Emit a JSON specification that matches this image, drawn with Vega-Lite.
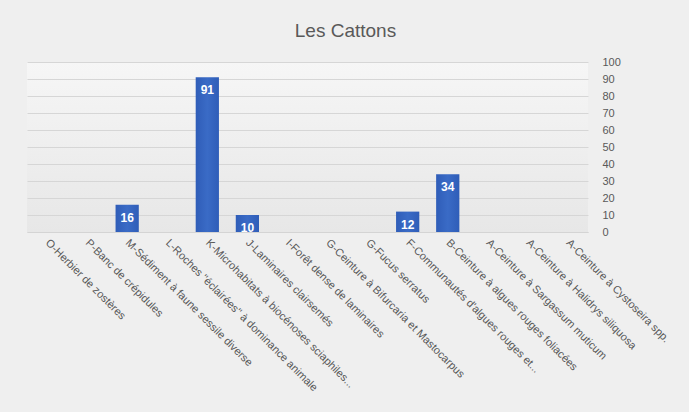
{
  "$schema": "https://vega.github.io/schema/vega-lite/v6.json",
  "width": 561,
  "height": 170,
  "autosize": {"type": "none"},
  "padding": {"left": 27, "top": 62, "right": 101, "bottom": 180},
  "background": "#efefef",
  "title": {
    "text": "Les Cattons",
    "fontSize": 19,
    "fontWeight": "normal",
    "font": "Liberation Sans",
    "color": "#595959",
    "anchor": "middle",
    "dx": 38,
    "offset": 15
  },
  "config": {
    "view": {"stroke": null, "fill": {"gradient": "linear", "x1": 0, "y1": 0, "x2": 0, "y2": 1, "stops": [{"offset": 0, "color": "#f6f6f6"}, {"offset": 1, "color": "#e7e7e7"}]}},
    "font": "Liberation Sans"
  },
  "data": {
    "values": [
      {"habitat": "O-Herbier de zostères", "valeur": null},
      {"habitat": "P-Banc de crépidules", "valeur": null},
      {"habitat": "M-Sédiment à faune sessile diverse", "valeur": 16},
      {"habitat": "L-Roches \"éclairées\" à dominance  animale", "valeur": null},
      {"habitat": "K-Microhabitats à biocénoses sciaphiles...", "valeur": 91},
      {"habitat": "J-Laminaires clairsemés", "valeur": 10},
      {"habitat": "I-Forêt dense de laminaires", "valeur": null},
      {"habitat": "G-Ceinture à Bifurcaria et Mastocarpus", "valeur": null},
      {"habitat": "G-Fucus serratus", "valeur": null},
      {"habitat": "F-Communautés d'algues rouges et...", "valeur": 12},
      {"habitat": "B-Ceinture à algues rouges foliacées", "valeur": 34},
      {"habitat": "A-Ceinture à Sargassum muticum", "valeur": null},
      {"habitat": "A-Ceinture à Halidrys siliquosa", "valeur": null},
      {"habitat": "A-Ceinture à Cystoseira spp.", "valeur": null}
    ]
  },
  "encoding": {
    "x": {
      "field": "habitat",
      "type": "nominal",
      "sort": null,
      "scale": {
        "domain": [
          "O-Herbier de zostères",
          "P-Banc de crépidules",
          "M-Sédiment à faune sessile diverse",
          "L-Roches \"éclairées\" à dominance  animale",
          "K-Microhabitats à biocénoses sciaphiles...",
          "J-Laminaires clairsemés",
          "I-Forêt dense de laminaires",
          "G-Ceinture à Bifurcaria et Mastocarpus",
          "G-Fucus serratus",
          "F-Communautés d'algues rouges et...",
          "B-Ceinture à algues rouges foliacées",
          "A-Ceinture à Sargassum muticum",
          "A-Ceinture à Halidrys siliquosa",
          "A-Ceinture à Cystoseira spp."
        ],
        "paddingInner": 0.42,
        "paddingOuter": 0.21
      },
      "axis": {
        "title": null,
        "labelAngle": 45,
        "labelAlign": "left",
        "labelBaseline": "middle",
        "labelPadding": 9,
        "labelLimit": 400,
        "labelFontSize": 11,
        "labelColor": "#595959",
        "ticks": false,
        "domainColor": "#d4d4d4",
        "grid": false
      }
    },
    "y": {
      "field": "valeur",
      "type": "quantitative",
      "scale": {"domain": [0, 100]},
      "axis": {
        "orient": "right",
        "title": null,
        "values": [0, 10, 20, 30, 40, 50, 60, 70, 80, 90, 100],
        "ticks": false,
        "domain": false,
        "labelPadding": 14,
        "labelFontSize": 11,
        "labelColor": "#595959",
        "labelAlign": "left",
        "gridColor": "#d6d6d6",
        "gridWidth": 1
      }
    }
  },
  "layer": [
    {
      "mark": {"type": "bar", "color": {"gradient": "linear", "x1": 0, "y1": 0, "x2": 1, "y2": 0, "stops": [{"offset": 0, "color": "#2f5db8"}, {"offset": 0.5, "color": "#3a6bc6"}, {"offset": 1, "color": "#2f5db8"}]}}
    },
    {
      "transform": [{"filter": "datum.valeur != null"}],
      "mark": {"type": "text", "color": "white", "fontWeight": "bold", "fontSize": 12, "baseline": "middle", "dy": 13},
      "encoding": {"text": {"field": "valeur", "type": "quantitative"}}
    }
  ]
}
